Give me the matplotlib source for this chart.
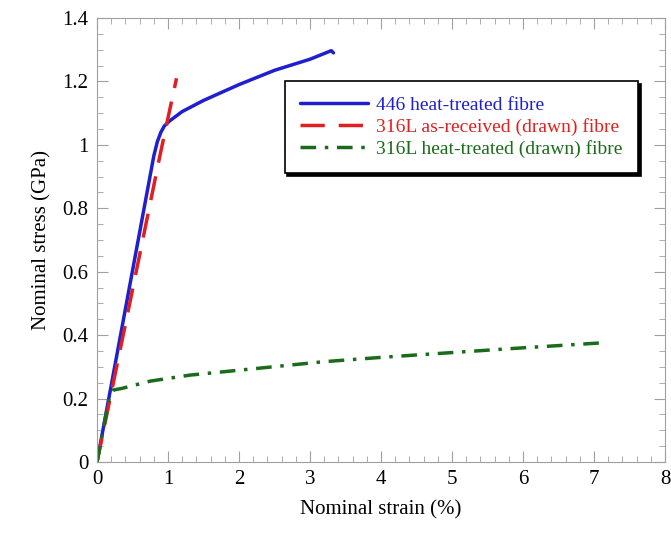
import matplotlib
matplotlib.use("Agg")
import matplotlib.pyplot as plt
from matplotlib.ticker import MultipleLocator, FuncFormatter

blue_x = [0, 0.8, 0.85, 0.9, 0.95, 1.02, 1.2, 1.5, 2.0, 2.5, 3.0, 3.3, 3.33]
blue_y = [0, 0.965, 1.01, 1.04, 1.06, 1.075, 1.105, 1.14, 1.19, 1.235, 1.27, 1.297, 1.29]

red_x = [0, 0.47, 0.89, 1.12]
red_y = [0, 0.51, 0.97, 1.21]

green_x = [0, 0.17, 0.23, 0.35, 0.75, 1.31, 2.25, 3.18, 4.07, 5.86, 7.13]
green_y = [0, 0.2, 0.227, 0.232, 0.255, 0.274, 0.295, 0.316, 0.331, 0.358, 0.376]

labels = ["446 heat-treated fibre", "316L as-received (drawn) fibre", "316L heat-treated (drawn) fibre"]
colors = ["#1f1fd0", "#e02020", "#1a6b1a"]

plt.rcParams['font.family'] = ['Liberation Serif', 'DejaVu Serif']

fig = plt.figure(figsize=(6.71, 5.35), dpi=100)
ax = fig.add_axes([97/671, 1-462/535, (665-97)/671, (462-18)/535])

ax.plot(blue_x, blue_y, color=colors[0], lw=2.5, label=labels[0], solid_capstyle='round', solid_joinstyle='round')
ax.plot(red_x, red_y, color=colors[1], lw=2.5, ls=(0, (7, 4)), label=labels[1])
ax.plot(green_x, green_y, color=colors[2], lw=2.5, ls=(0, (4.5, 2.5, 1, 2.5)), label=labels[2])

ax.set_xlim(0, 8)
ax.set_ylim(0, 1.4)
ax.xaxis.set_major_locator(MultipleLocator(1))
ax.xaxis.set_minor_locator(MultipleLocator(0.2))
ax.yaxis.set_major_locator(MultipleLocator(0.2))
ax.yaxis.set_minor_locator(MultipleLocator(0.05))
ax.yaxis.set_major_formatter(FuncFormatter(lambda v, p: ('%g' % round(v, 2))))

for s in ax.spines.values():
    s.set_color('#a0a0a0')
ax.tick_params(which='both', direction='in', top=True, right=True, color='#a0a0a0', labelsize=15, pad=6)
ax.tick_params(which='major', length=8)
ax.tick_params(which='minor', length=4)

ax.set_xlabel("Nominal strain (%)", fontsize=15, labelpad=8)
ax.set_ylabel("Nominal stress (GPa)", fontsize=15, labelpad=8)

leg = ax.legend(loc='upper left', bbox_to_anchor=(0.313, 0.88), fontsize=14, frameon=True,
                fancybox=False, shadow={'color': 'black', 'alpha': 1}, edgecolor='black',
                handlelength=3.5, labelspacing=0.2, borderpad=0.8, handletextpad=0.4)
leg.get_frame().set_linewidth(1.2)
for t, c in zip(leg.get_texts(), colors):
    t.set_color(c)

fig.savefig("out.png", dpi=100)
